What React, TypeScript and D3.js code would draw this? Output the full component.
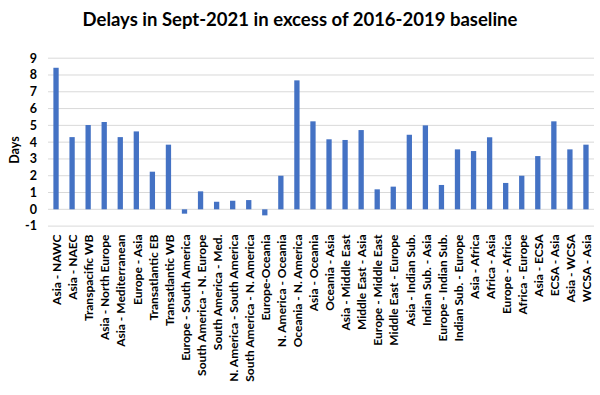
import React from "react";
import * as d3 from "d3";

const categories = [
  "Asia - NAWC", "Asia - NAEC", "Transpacific WB", "Asia - North Europe", "Asia - Mediterranean",
  "Europe - Asia", "Transatlantic EB", "Transatlantic WB", "Europe - South America",
  "South America - N. Europe", "South America - Med.", "N. America - South America",
  "South America - N. America", "Europe-Oceania", "N. America - Oceania", "Oceania - N. America",
  "Asia - Oceania", "Oceania - Asia", "Asia - Middle East", "Middle East - Asia",
  "Europe - Middle East", "Middle East - Europe", "Asia - Indian Sub.", "Indian Sub. - Asia",
  "Europe - Indian Sub.", "Indian Sub. - Europe", "Asia - Africa", "Africa - Asia",
  "Europe - Africa", "Africa - Europe", "Asia - ECSA", "ECSA - Asia", "Asia - WCSA", "WCSA - Asia",
];
const values = [
  8.43, 4.3, 5.02, 5.2, 4.3, 4.64, 2.24, 3.85, -0.26, 1.07, 0.45, 0.51,
  0.55, -0.36, 2.0, 7.68, 5.24, 4.17, 4.13, 4.72, 1.19, 1.35, 4.44, 5.0,
  1.45, 3.57, 3.47, 4.29, 1.57, 2.0, 3.17, 5.24, 3.57, 3.85,
];
const yTicks = [-1, 0, 1, 2, 3, 4, 5, 6, 7, 8, 9];
const title = "Delays in Sept-2021 in excess of 2016-2019 baseline";
const yTitle = "Days";

const W = 600, H = 395;
const plot = { left: 48, right: 594, top: 58.2, bottom: 226.1 };
const FONT = "Lato, 'Open Sans', sans-serif";

export default function App() {
  const x = d3.scaleBand<string>().domain(categories).range([plot.left, plot.right]).paddingInner(0.67).paddingOuter(0.335);
  const xc = d3.scaleBand<string>().domain(categories).range([plot.left, plot.right]);
  const y = d3.scaleLinear().domain([-1, 9]).range([plot.bottom, plot.top]);
  return (
    <svg width={W} height={H} style={{ position: "absolute", left: 0, top: 0, background: "#fff" }} fontFamily={FONT}>
      <text x={300} y={26} textAnchor="middle" fontSize={18.5} fontWeight={700} fill="#000">{title}</text>
      {yTicks.map((t) => (
        <g key={t}>
          <line x1={plot.left} x2={plot.right} y1={y(t)} y2={y(t)} stroke="#d9d9d9" strokeWidth={1} />
          <text x={37} y={y(t)} dy="0.35em" textAnchor="end" fontSize={12.5} fontWeight={700} fill="#000">{t}</text>
        </g>
      ))}
      <text transform={`translate(15,${150}) rotate(-90)`} textAnchor="middle" dy="0.35em" fontSize={12.5} fontWeight={700} fill="#000">{yTitle}</text>
      {categories.map((c, i) => {
        const v = values[i];
        const y0 = y(0), y1 = y(v);
        return (
          <rect key={c} x={x(c)} width={x.bandwidth()} y={Math.min(y0, y1)} height={Math.abs(y1 - y0)} fill="#4472C4" />
        );
      })}
      {categories.map((c) => {
        const cx = (xc(c) as number) + xc.bandwidth() / 2 + 1;
        return (
          <text key={c} transform={`translate(${cx},${234.5}) rotate(-90)`} textAnchor="end" dy="0.35em" fontSize={12} fontWeight={700} fill="#000">{c}</text>
        );
      })}
    </svg>
  );
}
